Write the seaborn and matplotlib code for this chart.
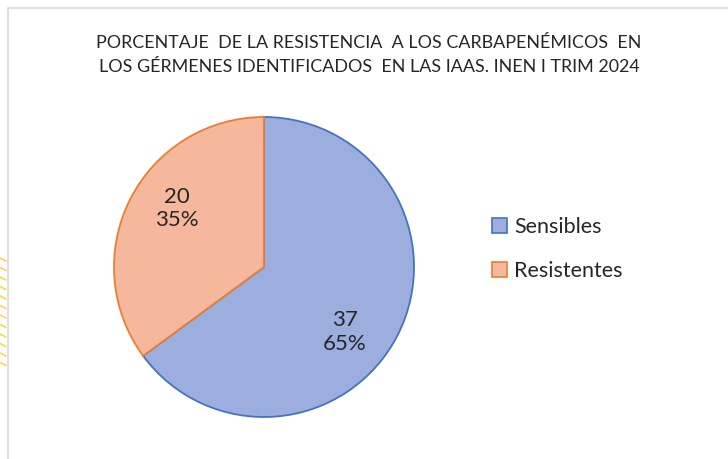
import matplotlib
matplotlib.use("Agg")
import matplotlib.pyplot as plt
import seaborn as sns
import numpy as np
from matplotlib.patches import Rectangle, Patch

categories = ["Sensibles", "Resistentes"]
counts = [37, 20]
title_lines = ["PORCENTAJE  DE LA RESISTENCIA  A LOS CARBAPENÉMICOS  EN",
               "LOS GÉRMENES IDENTIFICADOS  EN LAS IAAS. INEN I TRIM 2024"]

sns.set_theme(style="white")
plt.rcParams['font.family'] = ['Lato', 'DejaVu Sans']

fill_colors = ["#9BAEDD", "#F5B89C"]
edge_colors = ["#4472C4", "#ED7D31"]
label_angle_shift = [-12, -7]   # degrees, label placement tweak
label_radius = [0.69, 0.70]

fig = plt.figure(figsize=(7.28, 4.59), dpi=100)
fig.patch.set_facecolor("white")

# chart frame
fig.add_artist(Rectangle((8/728, -0.1), 2, 1.1 - 8/459, transform=fig.transFigure,
                         fill=False, edgecolor="#D9D9D9", linewidth=1.2))
# yellow decorative stripes at left
for i in range(12):
    y = 1 - (258 + i * 9.5) / 459
    fig.add_artist(plt.Line2D([0, 6/728], [y, y - 3/459], transform=fig.transFigure,
                              color="#FFD54F", linewidth=1.2))

ax = fig.add_axes([(264 - 150) / 728, (459 - 417) / 459, 300 / 728, 300 / 459])
total = sum(counts)
wedges, texts, autotexts = ax.pie(
    counts, colors=fill_colors, startangle=90, counterclock=False,
    autopct=lambda p: f"{round(p * total / 100)}\n{p:.0f}%", pctdistance=0.7,
    wedgeprops=dict(linewidth=1.3),
    textprops=dict(fontsize=16, color="#262626", linespacing=1.2))
for w, ec, t, sh, r in zip(wedges, edge_colors, autotexts, label_angle_shift, label_radius):
    w.set_edgecolor(ec)
    mid = np.deg2rad((w.theta1 + w.theta2) / 2 + sh)
    t.set_position((r * np.cos(mid), r * np.sin(mid)))
ax.set_aspect("equal")
ax.set_xlim(-1.0, 1.0)
ax.set_ylim(-1.0, 1.0)
ax.axis("off")

fig.text(369 / 728, 1 - 43 / 459, title_lines[0], ha="center", va="center",
         fontsize=12.9, color="#262626")
fig.text(369 / 728, 1 - 67 / 459, title_lines[1], ha="center", va="center",
         fontsize=12.9, color="#262626")

handles = [Patch(facecolor=fc, edgecolor=ec, linewidth=1.2) for fc, ec in zip(fill_colors, edge_colors)]
fig.legend(handles, categories, loc="center left", bbox_to_anchor=(473 / 728, 1 - 249 / 459),
           frameon=False, fontsize=15.5, handlelength=0.7, handleheight=0.7,
           handletextpad=0.3, labelspacing=1.1, labelcolor="#262626")

fig.savefig("out.png", dpi=100)
